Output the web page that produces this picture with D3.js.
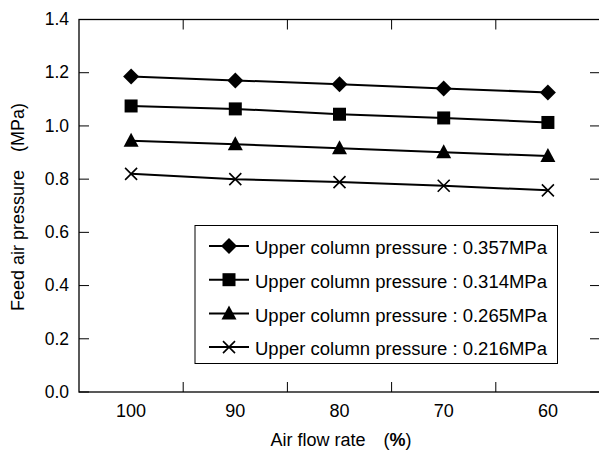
<!DOCTYPE html>
<html>
<head>
<meta charset="utf-8">
<script src="https://cdn.jsdelivr.net/npm/d3@7"></script>
<style>
  body { margin: 0; background: #fff; }
  text { font-family: "Liberation Sans", Arial, sans-serif; fill: #000; }
</style>
</head>
<body>
<div id="chart"></div>
<script>
// data
var flowRates = ["100", "90", "80", "70", "60"];
var seriesNames = [
  "Upper column pressure : 0.357MPa",
  "Upper column pressure : 0.314MPa",
  "Upper column pressure : 0.265MPa",
  "Upper column pressure : 0.216MPa"
];
var p357 = [1.186, 1.171, 1.157, 1.141, 1.126];
var p314 = [1.075, 1.064, 1.044, 1.030, 1.013];
var p265 = [0.944, 0.931, 0.916, 0.901, 0.887];
var p216 = [0.820, 0.800, 0.789, 0.775, 0.758];
var markers = ["diamond", "square", "triangle", "cross"];
var yTicks = [0, 0.2, 0.4, 0.6, 0.8, 1.0, 1.2, 1.4];

var W = 599, H = 450;
var margin = {top: 19.5, right: -1, bottom: 58, left: 79};
var w = W - margin.left - margin.right, h = H - margin.top - margin.bottom;

var svg = d3.select("#chart").append("svg").attr("width", W).attr("height", H);
var g = svg.append("g").attr("transform", "translate(" + margin.left + "," + margin.top + ")");

var x = d3.scaleBand().domain(flowRates).range([0, w]);
var y = d3.scaleLinear().domain([0, 1.4]).range([h, 0]);

// frame
g.append("rect").attr("width", w).attr("height", h)
  .attr("fill", "none").attr("stroke", "#000").attr("stroke-width", 1.3);

// y ticks inside, both sides
yTicks.forEach(function (t) {
  g.append("line").attr("x1", 0).attr("x2", 10).attr("y1", y(t)).attr("y2", y(t))
    .attr("stroke", "#000").attr("stroke-width", 1);
  g.append("line").attr("x1", w - 10).attr("x2", w).attr("y1", y(t)).attr("y2", y(t))
    .attr("stroke", "#000").attr("stroke-width", 1);
  g.append("text").attr("x", -10).attr("y", y(t)).attr("dy", "0.33em")
    .attr("text-anchor", "end").style("font-size", "17.5px").text(t.toFixed(1));
});

// x ticks between categories, top and bottom
flowRates.slice(1).forEach(function (c) {
  var xx = x(c);
  g.append("line").attr("x1", xx).attr("x2", xx).attr("y1", h).attr("y2", h - 10)
    .attr("stroke", "#000").attr("stroke-width", 1);
  g.append("line").attr("x1", xx).attr("x2", xx).attr("y1", 0).attr("y2", 10)
    .attr("stroke", "#000").attr("stroke-width", 1);
});
flowRates.forEach(function (c) {
  g.append("text").attr("x", x(c) + x.bandwidth() / 2).attr("y", h + 25)
    .attr("text-anchor", "middle").style("font-size", "18px").text(c);
});

// axis titles
var xt = svg.append("text").attr("x", 341).attr("y", 446)
  .attr("text-anchor", "middle").style("font-size", "18px");
xt.append("tspan").text("Air flow rate\u3000(");
xt.append("tspan").style("font-weight", "bold").text("%");
xt.append("tspan").text(")");

svg.append("text").attr("transform", "translate(24,207) rotate(-90)")
  .attr("text-anchor", "middle").style("font-size", "18px")
  .text("Feed air pressure\u3000(MPa)");

function drawMarker(sel, type) {
  if (type === "diamond") {
    sel.append("path").attr("d", "M0,-8L8,0L0,8L-8,0Z").attr("fill", "#000");
  } else if (type === "square") {
    sel.append("rect").attr("x", -6.5).attr("y", -6.5).attr("width", 13).attr("height", 13).attr("fill", "#000");
  } else if (type === "triangle") {
    sel.append("path").attr("d", "M0,-8L7.5,6L-7.5,6Z").attr("fill", "#000");
  } else {
    sel.append("path").attr("d", "M-6,-6L6,6M-6,6L6,-6").attr("stroke", "#000")
      .attr("stroke-width", 1.6).attr("fill", "none");
  }
}

var allSeries = [p357, p314, p265, p216];
var line = d3.line()
  .x(function (d, i) { return x(flowRates[i]) + x.bandwidth() / 2; })
  .y(function (d) { return y(d); });

allSeries.forEach(function (vals, k) {
  g.append("path").datum(vals).attr("d", line)
    .attr("fill", "none").attr("stroke", "#000").attr("stroke-width", 2);
  vals.forEach(function (v, i) {
    var m = g.append("g").attr("transform",
      "translate(" + (x(flowRates[i]) + x.bandwidth() / 2) + "," + y(v) + ")");
    drawMarker(m, markers[k]);
  });
});

// legend
var lg = svg.append("g").attr("transform", "translate(195,225.5)");
lg.append("rect").attr("width", 362.5).attr("height", 138)
  .attr("fill", "#fff").attr("stroke", "#000").attr("stroke-width", 1);
seriesNames.forEach(function (name, k) {
  var yy = 20.5 + k * 33.7;
  lg.append("line").attr("x1", 14).attr("x2", 54).attr("y1", yy).attr("y2", yy)
    .attr("stroke", "#000").attr("stroke-width", 2);
  drawMarker(lg.append("g").attr("transform", "translate(34," + yy + ")"), markers[k]);
  lg.append("text").attr("x", 60).attr("y", yy).attr("dy", "0.45em")
    .attr("textLength", 292).attr("lengthAdjust", "spacingAndGlyphs")
    .style("font-size", "18px").text(name);
});
</script>
</body>
</html>
